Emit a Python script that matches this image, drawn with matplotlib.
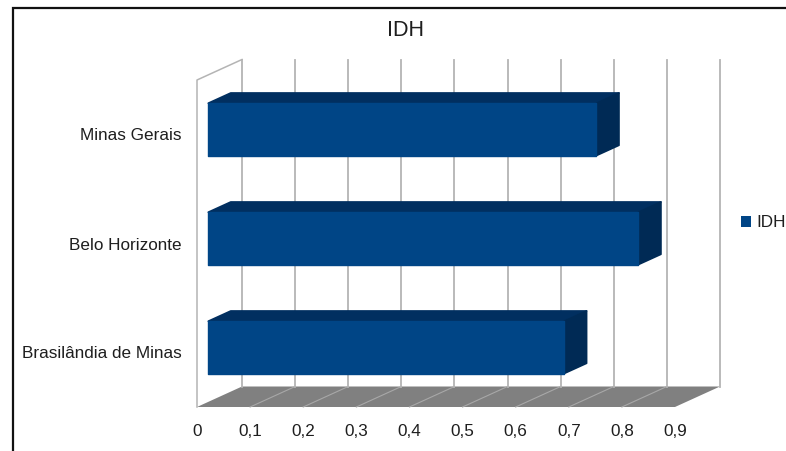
import matplotlib
matplotlib.use("Agg")
import matplotlib.pyplot as plt
from matplotlib.patches import Polygon, Rectangle, Patch
from matplotlib.lines import Line2D

plt.rcParams["font.family"] = ["Liberation Sans", "DejaVu Sans"]

# data
categories = ["Brasilândia de Minas", "Belo Horizonte", "Minas Gerais"]
idh_values = [0.670, 0.810, 0.731]
x_ticks = [0.0, 0.1, 0.2, 0.3, 0.4, 0.5, 0.6, 0.7, 0.8, 0.9]
x_tick_labels = ["0", "0,1", "0,2", "0,3", "0,4", "0,5", "0,6", "0,7", "0,8", "0,9"]
series_name = "IDH"
title = "IDH"

W, H = 786, 451
fig = plt.figure(figsize=(W / 100, H / 100), dpi=100)

# front plane of the 3D box, in pixels
px_left, px_right, px_bottom, px_top = 197, 675, 407, 80
ax = fig.add_axes([px_left / W, (H - px_bottom) / H,
                   (px_right - px_left) / W, (px_bottom - px_top) / H])
xmin, xmax = 0.0, 0.9
ymin, ymax = -0.5, len(categories) - 0.5
ax.set_xlim(xmin, xmax)
ax.set_ylim(ymin, ymax)

# oblique depth offset (full depth) expressed in data units
DX = 45 / ((px_right - px_left) / (xmax - xmin))
DY = 20.5 / ((px_bottom - px_top) / (ymax - ymin))

grid_col = "#b4b4b4"
floor_col = "#808080"
front_col = "#004586"
top_col = "#012f60"
side_col = "#002a55"

# floor
ax.add_patch(Polygon([(xmin, ymin), (xmax, ymin), (xmax + DX, ymin + DY), (xmin + DX, ymin + DY)],
                     closed=True, facecolor=floor_col, edgecolor="none", zorder=1, clip_on=False))
for t in x_ticks[1:-1]:
    ax.add_line(Line2D([t, t + DX], [ymin, ymin + DY], color="#a8a8a8", lw=0.8, zorder=1.5, clip_on=False))

# back wall grid
for t in x_ticks:
    ax.add_line(Line2D([t + DX, t + DX], [ymin + DY, ymax + DY], color=grid_col, lw=1.3,
                       zorder=2, clip_on=False))

# left wall outline
ax.add_line(Line2D([xmin, xmin, xmin + DX], [ymin, ymax, ymax + DY], color=grid_col, lw=1.1,
                   zorder=2, clip_on=False))

# 3D bars
h = 0.48
d0, d1 = 0.25, 0.75
for i, v in enumerate(idh_values):
    lo, hi = i - h / 2, i + h / 2
    top = [(xmin + d0 * DX, hi + d0 * DY), (v + d0 * DX, hi + d0 * DY),
           (v + d1 * DX, hi + d1 * DY), (xmin + d1 * DX, hi + d1 * DY)]
    side = [(v + d0 * DX, lo + d0 * DY), (v + d0 * DX, hi + d0 * DY),
            (v + d1 * DX, hi + d1 * DY), (v + d1 * DX, lo + d1 * DY)]
    ax.add_patch(Polygon(top, closed=True, facecolor=top_col, edgecolor=top_col, lw=1.2,
                         joinstyle="round", zorder=3, clip_on=False))
    ax.add_patch(Polygon(side, closed=True, facecolor=side_col, edgecolor=side_col, lw=1.2,
                         joinstyle="round", zorder=3, clip_on=False))

bars = ax.barh([i + d0 * DY for i in range(len(categories))], idh_values, height=h,
               left=xmin + d0 * DX, color=front_col, edgecolor=front_col, lw=1.0,
               joinstyle="round", zorder=4, label=series_name, clip_on=False)

# axes: ticks and labels only
for s in ax.spines.values():
    s.set_visible(False)
ax.set_facecolor("none")
ax.set_xticks(x_ticks)
ax.set_xticklabels(x_tick_labels)
ax.set_yticks(range(len(categories)))
ax.set_yticklabels(categories)
ax.tick_params(axis="x", length=0, pad=12, labelsize=12.3, labelcolor="#1e1e1e")
ax.tick_params(axis="y", length=0, pad=11, labelsize=12.3, labelcolor="#1e1e1e")

# title
fig.text(405.5 / W, 1 - 30.5 / H, title, ha="center", va="center", fontsize=15.5, color="#1e1e1e")

# legend
fig.legend(handles=[Patch(facecolor=front_col, edgecolor="none", label=series_name)],
           loc="center left", bbox_to_anchor=(740.5 / W, 1 - 223 / H), frameon=False,
           fontsize=12.3, handlelength=0.6, handleheight=0.6, handletextpad=0.3,
           borderaxespad=0, borderpad=0, labelcolor="#1e1e1e")

# outer frame
fig.add_artist(Rectangle((12.5 / W, -0.1), 1.2, 1 - 8.5 / H + 0.1, transform=fig.transFigure,
                         fill=False, edgecolor="#111111", lw=1.6))

fig.savefig("out.png", dpi=100, facecolor="white")
